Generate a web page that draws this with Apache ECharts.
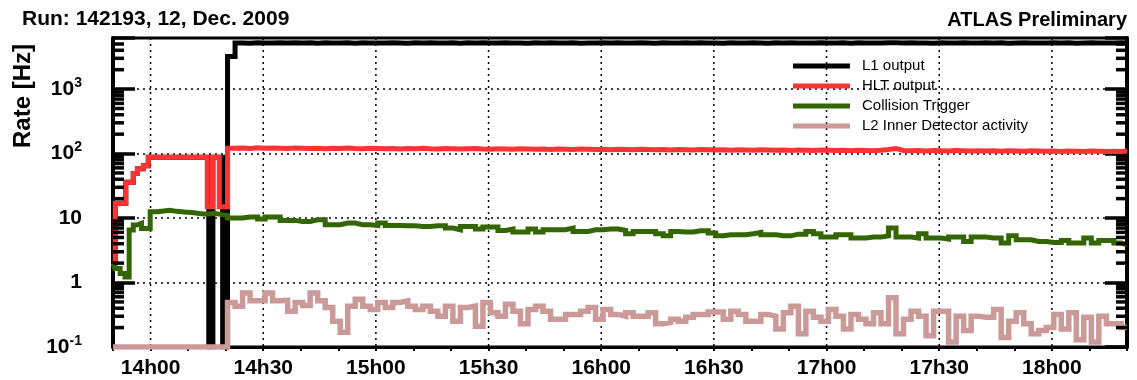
<!DOCTYPE html>
<html><head><meta charset="utf-8">
<script src="https://cdn.jsdelivr.net/npm/echarts@6/dist/echarts.min.js"></script>
<style>html,body{margin:0;padding:0;background:#fff}#c{width:1137px;height:380px}</style>
</head><body><div id="c"></div>
<script>
const FONT = "'Liberation Sans', Arial, Helvetica, sans-serif";

// ---- axis definitions (time in minutes since midnight) ----
const xMin = 830, xMax = 1100;
const xGridTimes = [840, 870, 900, 930, 960, 990, 1020, 1050, 1080];
const yMin = 0.1, yMax = 6200;
const yMinorTicks = [0.2,0.3,0.4,0.5,0.6,0.7,0.8,0.9,
  2,3,4,5,6,7,8,9, 20,30,40,50,60,70,80,90,
  200,300,400,500,600,700,800,900, 2000,3000,4000,5000];

// ---- legend names ----
const seriesNames = ['L1 output', 'HLT output', 'Collision Trigger', 'L2 Inner Detector activity'];

// ---- early period (before stable running), [minute, rate] step points ----
const l1Early = [[830,2.0],[830.6,17],[833.4,36],[835.4,49],[836.5,58],[838.1,65],[839.4,88],
  [855.5,0.1],[856.6,88],[859.2,0.1]];
const hltEarly = [[830,2.0],[830.6,17],[833.4,36],[835.4,49],[836.5,58],[838.1,65],[839.4,88],
  [855.1,15],[856.5,88],[858.3,15]];
const collEarly = [[830,1.98],[830.5,1.65],[831.9,1.38],[833.2,1.22],[834.3,6.5],[835.4,7.8],
  [836.3,8.3],[837.6,6.9],[839.9,12.5],[841.8,12.9],[843.5,13.2],[845.2,12.7],[847,12.4],
  [849,12.2],[851,11.8],[853,11.5],[855,11.9],[857,11.3],[859,11.0]];
const l2Early = [[830,0.1]];

// ---- stable running: bins of 2 minutes starting at binStart ----
const binStart = 860.5, binWidth = 2;
const l1Values = [
 3200,5200,5150,5250,5200,5180,5230,5170,5210,5190,
 5220,5160,5240,5200,5180,5210,5150,5230,5190,5200,
 5170,5220,5200,5160,5240,5190,5210,5180,5200,5230,
 5160,5210,5190,5220,5170,5200,5240,5180,5200,5150,
 5210,5190,5230,5170,5200,5220,5160,5200,5190,5240,
 5180,5210,5170,5200,5230,5190,5160,5220,5200,5180,
 5210,5170,5240,5190,5200,5150,5220,5200,5180,5230,
 5190,5160,5210,5200,5240,5170,5200,5190,5220,5180,
 5200,5230,5160,5210,5190,5200,5170,5240,5250,5180,
 5210,5190,5200,5160,5220,5200,5180,5230,5190,5170,
 5210,5200,5240,5160,5190,5220,5180,5200,5170,5230,
 5190,5210,5160,5200,5220,5180,5200,5190,5210,5200];
const hltValues = [
 121,122,120,123,121,122,121,120,122,121,
 120,121,119,121,120,122,120,119,121,120,
 119,120,118,120,119,121,119,118,120,119,
 118,119,120,118,117,119,118,117,119,118,
 117,118,116,118,117,116,118,117,116,117,
 115,117,116,115,117,116,115,116,114,116,
 115,114,116,115,114,115,113,115,114,113,
 115,114,113,114,112,114,113,112,114,113,
 112,113,111,113,112,111,113,116,120,112,
 111,112,110,112,111,110,112,111,110,111,
 110,111,109,111,110,109,111,110,109,110,
 108,110,109,108,110,109,108,109,108,110];
const collValues = [
 10.0,10.0,10.4,10.4,9.65,10.4,10.4,9.2,9.2,8.86,
 8.86,9.41,9.41,7.87,7.87,8.36,8.36,7.87,7.87,7.67,
 8.36,7.67,7.67,7.59,7.59,7.41,7.41,7.59,7.59,6.99,
 6.58,7.41,7.41,6.74,7.25,7.25,6.42,6.74,6.06,6.06,
 6.74,6.06,6.58,6.58,6.58,6.99,6.19,6.19,6.58,6.58,
 6.74,6.74,6.42,5.70,6.19,6.19,6.19,5.70,5.30,6.19,
 6.06,6.06,6.34,6.34,5.85,5.30,5.50,5.50,5.50,5.70,
 5.97,5.50,5.50,5.30,5.30,5.63,5.63,6.19,5.70,5.06,
 5.06,5.50,5.50,4.89,4.89,5.06,5.06,5.30,7.00,5.06,
 5.06,4.89,5.70,4.89,4.89,4.71,5.06,5.06,4.33,5.06,
 5.06,4.89,4.89,4.09,5.30,4.60,4.60,4.33,4.33,4.18,
 4.18,4.49,4.09,4.09,4.89,4.09,4.49,4.49,4.09,3.85];
const l2Values = [
 0.49,0.43,0.69,0.52,0.52,0.69,0.52,0.53,0.36,0.49,
 0.44,0.69,0.52,0.41,0.25,0.17,0.43,0.55,0.43,0.38,
 0.49,0.41,0.49,0.52,0.43,0.38,0.43,0.36,0.30,0.43,
 0.25,0.41,0.43,0.21,0.49,0.34,0.30,0.46,0.36,0.23,
 0.38,0.43,0.36,0.27,0.27,0.32,0.32,0.36,0.41,0.27,
 0.38,0.32,0.30,0.34,0.30,0.30,0.34,0.23,0.24,0.27,
 0.25,0.29,0.32,0.32,0.35,0.35,0.27,0.36,0.32,0.25,
 0.25,0.32,0.30,0.19,0.34,0.43,0.16,0.36,0.29,0.25,
 0.38,0.30,0.19,0.32,0.27,0.23,0.34,0.23,0.58,0.16,
 0.27,0.36,0.30,0.15,0.36,0.36,0.12,0.30,0.18,0.30,
 0.29,0.29,0.38,0.14,0.25,0.34,0.23,0.16,0.18,0.20,
 0.32,0.19,0.34,0.13,0.29,0.12,0.30,0.23,0.23,0.20];

function buildSteps(early, values) {
  const pts = early.slice();
  values.forEach((v, i) => pts.push([binStart + i * binWidth, v]));
  pts.push([xMax, values[values.length - 1]]);
  return pts;
}

function hhmm(v) {
  const h = Math.floor(v / 60), m = v % 60;
  return h + 'h' + (m < 10 ? '0' + m : m);
}

const chart = echarts.init(document.getElementById('c'), null, {renderer: 'canvas'});

const lineSeries = (name, data, color, width, z) => ({
  name, type: 'line', data, step: 'end', showSymbol: false, symbol: 'none',
  lineStyle: {color, width, join: 'miter', cap: 'butt'}, itemStyle: {color},
  z, silent: true, clip: true
});

const yAxisBase = {
  type: 'log', logBase: 10, min: yMin, max: yMax,
  axisLine: {show: true, lineStyle: {color: '#000', width: 4}},
  axisTick: {show: true, inside: true, length: 22, lineStyle: {color: '#000', width: 3.5}}
};

chart.setOption({
  animation: false,
  backgroundColor: '#fff',
  grid: {left: 113, right: 10, top: 38, bottom: 33, show: true, borderColor: '#000', borderWidth: 3, backgroundColor: 'transparent'},
  xAxis: {
    type: 'value', min: xMin, max: xMax, interval: 10,
    axisLine: {show: true, onZero: false, lineStyle: {color: '#000', width: 3}},
    axisTick: {show: true, inside: false, length: 4, lineStyle: {color: '#000', width: 2}},
    splitLine: {show: false},
    axisLabel: {
      margin: 11, color: '#000', fontFamily: FONT, fontWeight: 'bold', fontSize: 21,
      formatter: v => (v % 30 === 0 ? hhmm(v) : '')
    }
  },
  yAxis: [
    Object.assign({}, yAxisBase, {
      position: 'left',
      splitLine: {show: true, lineStyle: {color: '#000', width: 1.5, type: [2, 4]}},
      axisLabel: {
        margin: 31, color: '#000',
        formatter: v => {
          const l = Math.log10(v), e = Math.round(l);
          if (Math.abs(l - e) > 1e-6) return '';
          if (e === 0) return '{b|1}';
          if (e === 1) return '{b|10}';
          return '{b|10}{s|' + e + '}';
        },
        rich: {
          b: {fontSize: 21, fontWeight: 'bold', fontFamily: FONT, color: '#000', lineHeight: 26},
          s: {fontSize: 14, fontWeight: 'bold', fontFamily: FONT, color: '#000', lineHeight: 14, verticalAlign: 'top'}
        }
      }
    }),
    Object.assign({}, yAxisBase, {
      position: 'right',
      splitLine: {show: false},
      axisLabel: {show: false}
    })
  ],
  legend: {
    data: seriesNames,
    orient: 'vertical', left: 788, top: 52,
    icon: 'rect', itemWidth: 57, itemHeight: 5, itemGap: 2,
    textStyle: {fontFamily: FONT, fontSize: 15, color: '#000', lineHeight: 18, padding: [0, 0, 0, 7]},
    selectedMode: false
  },
  graphic: [
    {type: 'text', x: 22, y: 19, style: {text: 'Run: 142193, 12, Dec. 2009', fontFamily: FONT, fontWeight: 'bold', fontSize: 21, fill: '#000', align: 'left', verticalAlign: 'middle'}},
    {type: 'text', x: 1127, y: 20, style: {text: 'ATLAS Preliminary', fontFamily: FONT, fontWeight: 'bold', fontSize: 20, fill: '#000', align: 'right', verticalAlign: 'middle'}},
    {type: 'text', x: 23, y: 96, rotation: Math.PI / 2, style: {text: 'Rate [Hz]', fontFamily: FONT, fontWeight: 'bold', fontSize: 24, fill: '#000', align: 'center', verticalAlign: 'middle'}}
  ],
  series: [
    {
      type: 'custom', name: 'vgrid', silent: true, z: 1,
      data: xGridTimes.map(t => [t, 1]), encode: {x: 0, y: 1},
      renderItem: (params, api) => {
        const cs = params.coordSys;
        const x = api.coord([api.value(0), 1])[0];
        return {type: 'line', shape: {x1: x, y1: cs.y, x2: x, y2: cs.y + cs.height},
          style: {stroke: '#000', lineWidth: 1.5, lineDash: [2, 4]}};
      }
    },
    lineSeries(seriesNames[0], buildSteps(l1Early, l1Values), '#000000', 5, 2),
    lineSeries(seriesNames[1], buildSteps(hltEarly, hltValues), '#ff3333', 5, 3),
    lineSeries(seriesNames[2], buildSteps(collEarly, collValues), '#336600', 5, 4),
    lineSeries(seriesNames[3], buildSteps(l2Early, l2Values), '#cc9999', 5.5, 5),
    {
      type: 'custom', name: 'yminor', silent: true, z: 10,
      data: yMinorTicks.map(v => [xMin, v]), encode: {x: 0, y: 1},
      renderItem: (params, api) => {
        const cs = params.coordSys;
        const y = api.coord([xMin, api.value(1)])[1];
        const st = {stroke: '#000', lineWidth: 3.5};
        return {type: 'group', children: [
          {type: 'line', shape: {x1: cs.x, y1: y, x2: cs.x + 11, y2: y}, style: st},
          {type: 'line', shape: {x1: cs.x + cs.width - 11, y1: y, x2: cs.x + cs.width, y2: y}, style: st}
        ]};
      }
    }
  ]
});
</script></body></html>
